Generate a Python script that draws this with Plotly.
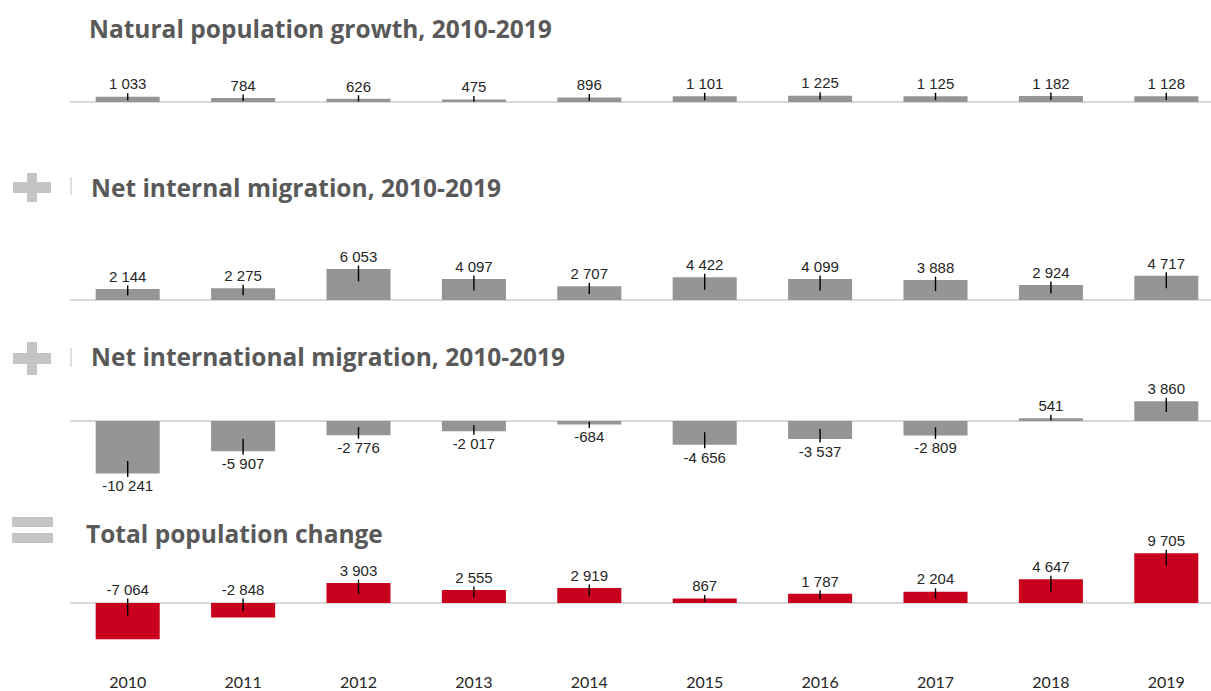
import plotly.graph_objects as go
from plotly.subplots import make_subplots

# ---- data -------------------------------------------------------------
years = ["2010", "2011", "2012", "2013", "2014", "2015", "2016", "2017", "2018", "2019"]
natural_growth = [1033, 784, 626, 475, 896, 1101, 1225, 1125, 1182, 1128]
internal_migration = [2144, 2275, 6053, 4097, 2707, 4422, 4099, 3888, 2924, 4717]
international_migration = [-10241, -5907, -2776, -2017, -684, -4656, -3537, -2809, 541, 3860]
total_change = [-7064, -2848, 3903, 2555, 2919, 867, 1787, 2204, 4647, 9705]

panel_titles = [
    "Natural population growth, 2010-2019",
    "Net internal migration, 2010-2019",
    "Net international migration, 2010-2019",
    "Total population change",
]
panel_series = [natural_growth, internal_migration, international_migration, total_change]
panel_colors = ["#959595", "#959595", "#959595", "#c8001e"]
# the total panel keeps every label above the baseline
labels_above_base = [False, False, False, True]

# ---- layout geometry (pixels) -----------------------------------------
W, H = 1211, 691
PX_PER_UNIT = 5.12 / 1000          # shared vertical scale for all panels
X_LEFT = 70                        # left edge of plotting band
CAT_STEP = 115.4                   # pixel width of one category slot
# (top, baseline, bottom) of each panel in pixels
panel_px = [(45, 102, 140), (150, 300, 330), (335, 421, 500), (505, 603, 671)]
title_px = [(87, 28), (89, 187), (89, 357), (84, 533)]

def py(p):
    return 1 - p / H

def px(p):
    return p / W

fig = make_subplots(rows=4, cols=1)

for i, (vals, color) in enumerate(zip(panel_series, panel_colors)):
    row = i + 1
    top, base, bottom = panel_px[i]
    fig.add_trace(go.Bar(x=years, y=vals, marker=dict(color=color, line=dict(width=0)),
                         hoverinfo="x+y"), row=row, col=1)

    # leader ticks and value labels
    tx, ty, lx, ly, pos, txt = [], [], [], [], [], []
    for yr, v in zip(years, vals):
        s = 1 if v >= 0 else -1
        length_px = abs(v) * PX_PER_UNIT
        inner_px = min(12.5, 0.5 * length_px + 1)
        if s < 0 and labels_above_base[i]:
            outer = 4.5 / PX_PER_UNIT
            inner = -inner_px / PX_PER_UNIT
            lab_y, lab_pos = outer, "top center"
        else:
            outer = v + s * 3.5 / PX_PER_UNIT
            inner = v - s * inner_px / PX_PER_UNIT
            if s > 0:
                lab_y, lab_pos = outer, "top center"
            else:
                lab_y, lab_pos = outer - 3 / PX_PER_UNIT, "bottom center"
        tx += [yr, yr, None]
        ty += [outer, inner, None]
        lx.append(yr)
        ly.append(lab_y)
        pos.append(lab_pos)
        txt.append(f"{v:,}".replace(",", " "))
    fig.add_trace(go.Scatter(x=tx, y=ty, mode="lines", line=dict(color="#000000", width=1.4),
                             hoverinfo="skip"), row=row, col=1)
    fig.add_trace(go.Scatter(x=lx, y=ly, mode="text", text=txt, textposition=pos,
                             textfont=dict(family="Liberation Sans", size=15, color="#262626"),
                             cliponaxis=False, hoverinfo="skip"), row=row, col=1)

    yname = "yaxis" if row == 1 else f"yaxis{row}"
    xname = "xaxis" if row == 1 else f"xaxis{row}"
    fig.layout[yname].update(
        domain=[py(bottom), py(top)],
        range=[-(bottom - base) / PX_PER_UNIT, (base - top) / PX_PER_UNIT],
        showgrid=False, showticklabels=False, zeroline=True,
        zerolinecolor="#d9d9d9", zerolinewidth=1.5, fixedrange=True,
    )
    fig.layout[xname].update(
        type="category",
        domain=[px(X_LEFT), 1],
        range=[-0.5, -0.5 + (W - X_LEFT) / CAT_STEP],
        showgrid=False, zeroline=False, showline=False, ticks="",
        showticklabels=(row == 4),
        tickfont=dict(family="Lato", size=16, color="#262626"),
    )

    tx0, ty0 = title_px[i]
    fig.add_annotation(text=panel_titles[i], xref="paper", yref="paper",
                       x=px(tx0), y=py(ty0), xanchor="left", yanchor="middle",
                       showarrow=False,
                       font=dict(family="Open Sans", size=24.5, color="#595959", weight="bold"))

# ---- operator icons ---------------------------------------------------
icon = "#c4c4c4"
def rect(x0, y0, x1, y1, color=icon):
    fig.add_shape(type="rect", xref="paper", yref="paper",
                  x0=px(x0), x1=px(x1), y0=py(y1), y1=py(y0),
                  fillcolor=color, line=dict(width=0), layer="above")

def vline(x, y0, y1):
    fig.add_shape(type="line", xref="paper", yref="paper",
                  x0=px(x), x1=px(x), y0=py(y1), y1=py(y0),
                  line=dict(color="#bfbfbf", width=1))

# plus before internal migration
rect(13, 182, 51, 193)
rect(27, 173, 37, 202)
vline(71, 177, 195)
# plus before international migration
rect(13, 353, 51, 364)
rect(27, 342, 37, 375)
vline(71, 348, 367)
# equals before total change
rect(12, 517, 53, 527)
rect(12, 533, 53, 543)

fig.update_layout(
    width=W, height=H,
    margin=dict(l=0, r=0, t=0, b=0),
    paper_bgcolor="white", plot_bgcolor="white",
    showlegend=False, bargap=0.445,
)

fig.write_html("out.html")
